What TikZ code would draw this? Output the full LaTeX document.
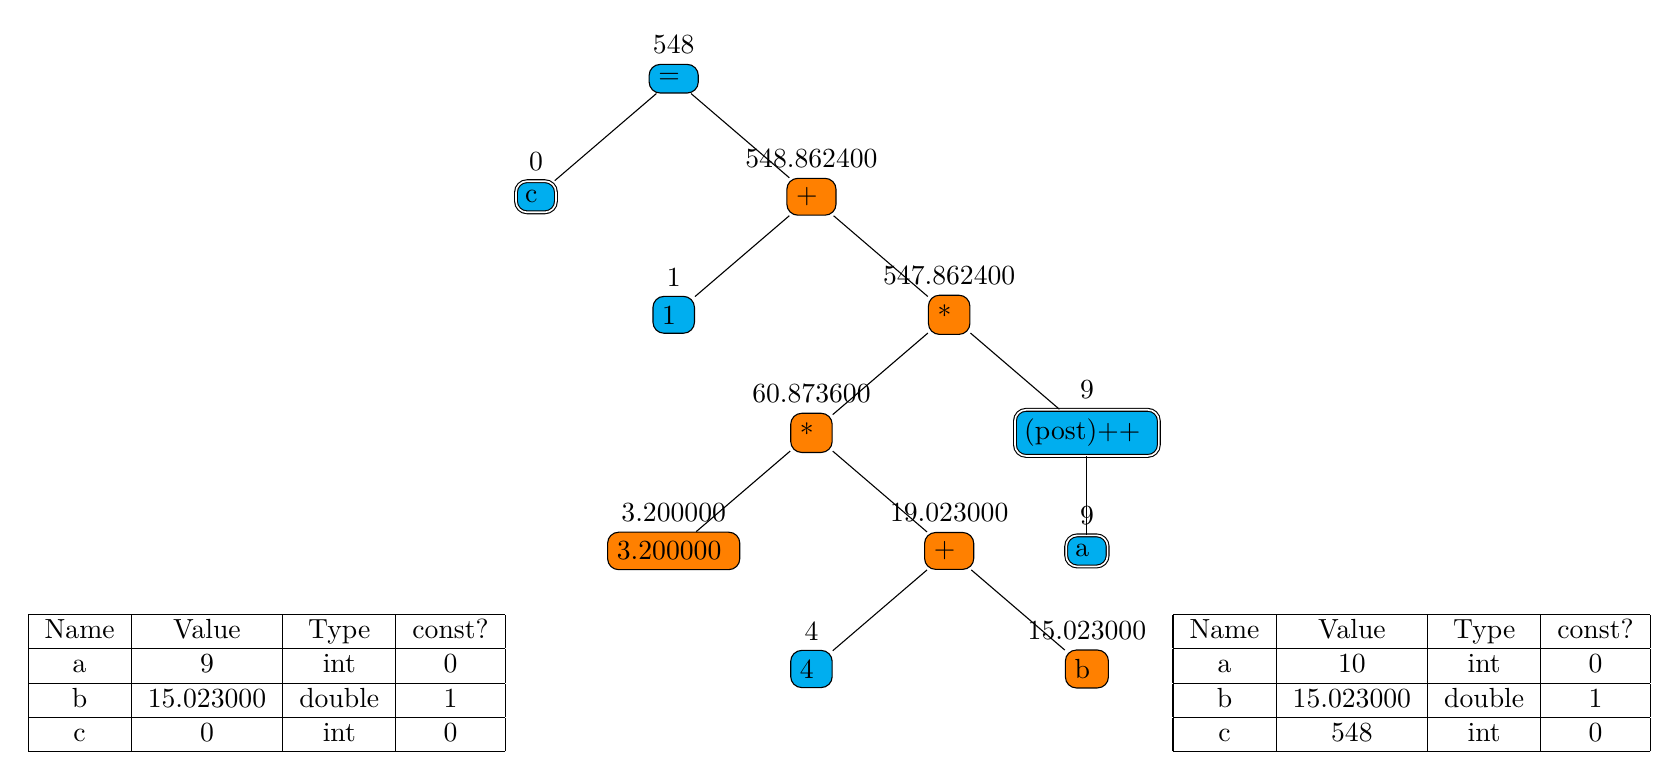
\documentclass[tikz,border=0pt]{standalone}
\usepackage{xcolor}
\definecolor{litblue}{RGB}{0,174,239}
\definecolor{oporange}{RGB}{255,128,0}
\newcommand{\padr}{\kern0.3333em}

\begin{document}
\begin{tikzpicture}[
    opnode/.style={draw, rounded corners, fill=oporange},
    valnode/.style={draw, rounded corners, fill=litblue},
    varnode/.style={valnode, double}]

    \useasboundingbox (-8.56, 1.0) rectangle (12.76, -8.91);

    % Expression tree
    \node[valnode, label=above:{548}] (eq) at (0, 0) {=\padr};
    \node[varnode, label=above:{0}] (c) at (-1.75, -1.5) {c\padr};
    \node[opnode, label=above:{548.862400}] (plusA) at (1.75, -1.5) {+\padr};
    \node[valnode, label=above:{1}] (one) at (0, -3) {1\padr};
    \node[opnode, label=above:{547.862400}] (mulA) at (3.5, -3) {*\padr};
    \node[opnode, label=above:{60.873600}] (mulB) at (1.75, -4.5) {*\padr};
    \node[varnode, label=above:{9}] (post) at (5.25, -4.5) {(post)++\padr};
    \node[opnode, label=above:{3.200000}] (lit) at (0, -6) {3.200000\padr};
    \node[opnode, label=above:{19.023000}] (plusB) at (3.5, -6) {+\padr};
    \node[varnode, label=above:{9}] (a) at (5.25, -6) {a\padr};
    \node[valnode, label=above:{4}] (four) at (1.75, -7.5) {4\padr};
    \node[opnode, label=above:{15.023000}] (b) at (5.25, -7.5) {b\padr};

    % Edges
    \draw (eq) -- (c);
    \draw (eq) -- (plusA);
    \draw (plusA) -- (one);
    \draw (plusA) -- (mulA);
    \draw (mulA) -- (mulB);
    \draw (mulA) -- (post);
    \draw (mulB) -- (lit);
    \draw (mulB) -- (plusB);
    \draw (post) -- (a);
    \draw (plusB) -- (four);
    \draw (plusB) -- (b);

    % Symbol tables
    \node[anchor=north west, inner sep=0pt] (tabbefore) at (-8.21, -6.795) {%
        \begin{tabular}{|c|c|c|c|}
            \hline
            Name & Value & Type & const? \\ \hline
            a & 9 & int & 0 \\ \hline
            b & 15.023000 & double & 1 \\ \hline
            c & 0 & int & 0 \\ \hline
        \end{tabular}};
    \node[anchor=north west, inner sep=0pt] (tabafter) at (6.337, -6.795) {%
        \begin{tabular}{|c|c|c|c|}
            \hline
            Name & Value & Type & const? \\ \hline
            a & 10 & int & 0 \\ \hline
            b & 15.023000 & double & 1 \\ \hline
            c & 548 & int & 0 \\ \hline
        \end{tabular}};

\end{tikzpicture}
\end{document}
